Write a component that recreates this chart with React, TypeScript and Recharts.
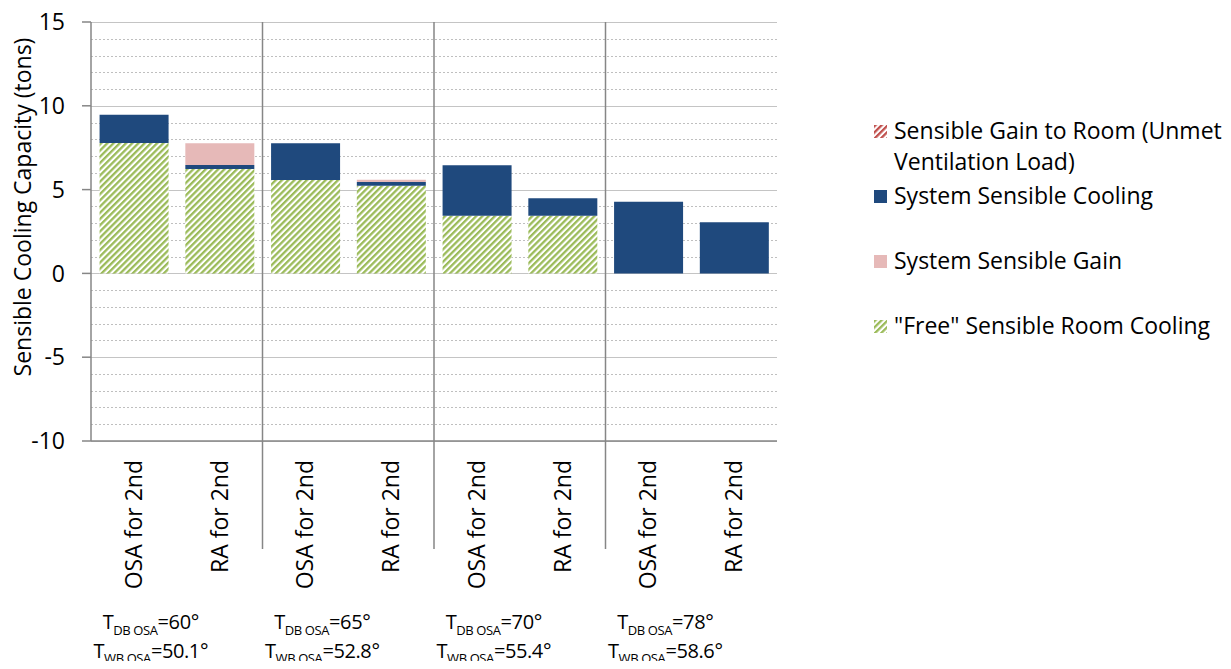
import React from 'react';
import { BarChart, Bar, XAxis, YAxis, CartesianGrid } from 'recharts';

const CATEGORIES = ['OSA for 2nd', 'RA for 2nd', 'OSA for 2nd', 'RA for 2nd', 'OSA for 2nd', 'RA for 2nd', 'OSA for 2nd', 'RA for 2nd'];
const GROUP_DB = ['60°', '65°', '70°', '78°'];
const GROUP_WB = ['50.1°', '52.8°', '55.4°', '58.6°'];

const FREE_COOLING = [7.78, 6.23, 5.57, 5.23, 3.44, 3.44, 0, 0];
const SYSTEM_COOLING = [1.69, 0.24, 2.19, 0.22, 3.01, 1.04, 4.28, 3.05];
const SYSTEM_GAIN = [0, 1.3, 0, 0.14, 0, 0, 0, 0];
const UNMET_GAIN = [0, 0, 0, 0, 0, 0, 0, 0];

const Y_DOMAIN = [-10, 15];
const MAJOR_TICKS = [-10, -5, 0, 5, 10, 15];
const MINOR_TICKS = [-9, -8, -7, -6, -4, -3, -2, -1, 1, 2, 3, 4, 6, 7, 8, 9, 11, 12, 13, 14];

const LEGEND_ITEMS = [
  { name: 'Sensible Gain to Room (Unmet Ventilation Load)', fill: 'url(#redHatch)' },
  { name: 'System Sensible Cooling', fill: '#1F497D' },
  { name: 'System Sensible Gain', fill: '#E6B9B8' },
  { name: '"Free" Sensible Room Cooling', fill: 'url(#greenHatch)' },
];

const data = CATEGORIES.map((name, i) => ({
  name,
  free: FREE_COOLING[i],
  cooling: SYSTEM_COOLING[i],
  gain: SYSTEM_GAIN[i],
  unmet: UNMET_GAIN[i],
}));

// chart is pulled back over the body margin, so coordinates below are page pixels
const FONT = '"Open Sans", sans-serif';
const FS = 23;
const W = 1231;
const H = 669;
const PLOT_LEFT = 91;
const PLOT_TOP = 22;
const PLOT_RIGHT = 777;
const PLOT_BOTTOM = 441;
const BAND = (PLOT_RIGHT - PLOT_LEFT) / CATEGORIES.length;
const AXIS_COLOR = '#868686';

// snap grid lines to the pixel grid so the 1px dotted lines stay visible
const gridAt = (values: number[]) => (props: any) => {
  const scale = props?.yAxis?.scale;
  const top = props?.offset?.top ?? PLOT_TOP;
  const height = props?.offset?.height ?? PLOT_BOTTOM - PLOT_TOP;
  const toY = (v: number) => {
    if (typeof scale === 'function') return scale(v);
    if (scale && typeof scale.map === 'function') return scale.map(v);
    return top + ((Y_DOMAIN[1] - v) / (Y_DOMAIN[1] - Y_DOMAIN[0])) * height;
  };
  return values.map((v) => Math.round(toY(v)) + 0.5);
};

const XTick = (props: any) => {
  const { x, payload } = props;
  const i = payload.index;
  const top = PLOT_BOTTOM + 19;
  const g = Math.floor(i / 2);
  const cx = x + BAND / 2 - 26;
  return (
    <g>
      <text
        x={x + 8}
        y={top}
        transform={`rotate(-90, ${x + 8}, ${top})`}
        textAnchor="end"
        fontSize={FS}
        fill="#000"
        fontFamily={FONT}
      >
        {payload.value}
      </text>
      {i % 2 === 0 && i > 0 && (
        <line x1={x - BAND / 2} x2={x - BAND / 2} y1={PLOT_TOP} y2={549} stroke={AXIS_COLOR} strokeWidth={1.5} />
      )}
      {i % 2 === 0 && (
        <g fontFamily={FONT} fill="#000" letterSpacing={-0.4}>
          <text x={cx} y={629} textAnchor="middle" fontSize={20}>
            <tspan>T</tspan>
            <tspan fontSize={13} dy={6}>DB OSA</tspan>
            <tspan dy={-6}>{'=' + GROUP_DB[g]}</tspan>
          </text>
          <text x={cx} y={658} textAnchor="middle" fontSize={20}>
            <tspan>T</tspan>
            <tspan fontSize={13} dy={5}>WB OSA</tspan>
            <tspan dy={-5}>{'=' + GROUP_WB[g]}</tspan>
          </text>
        </g>
      )}
    </g>
  );
};

const Swatch = ({ fill }: { fill: string }) => (
  <svg width={13} height={13} style={{ marginRight: 7, marginTop: 10, flexShrink: 0 }}>
    <rect width={13} height={13} fill={fill} />
  </svg>
);

const App = () => {
  return (
    <div style={{ position: 'relative', width: W, height: H, margin: -8, fontFamily: FONT }}>
      <BarChart width={W} height={H} data={data} margin={{ top: PLOT_TOP, right: W - PLOT_RIGHT, bottom: 0, left: 0 }} barCategoryGap="10%">
        <defs>
          <pattern id="greenHatch" width={4.4} height={4.4} patternUnits="userSpaceOnUse" patternTransform="rotate(45)">
            <rect width={4.4} height={4.4} fill="#FFFFFF" />
            <rect width={2.3} height={4.4} fill="#9BBB59" />
          </pattern>
          <pattern id="redHatch" width={4.4} height={4.4} patternUnits="userSpaceOnUse" patternTransform="rotate(45)">
            <rect width={4.4} height={4.4} fill="#FFFFFF" />
            <rect width={2.3} height={4.4} fill="#C0504D" />
          </pattern>
        </defs>
        <CartesianGrid
          yAxisId="left"
          horizontalCoordinatesGenerator={gridAt(MINOR_TICKS)}
          vertical={false}
          stroke="#BFBFBF"
          strokeDasharray="2 2"
        />
        <CartesianGrid yAxisId="left" horizontalCoordinatesGenerator={gridAt(MAJOR_TICKS)} vertical={false} stroke="#C4C4C4" />
        <XAxis
          dataKey="name"
          height={H - PLOT_BOTTOM}
          interval={0}
          tickLine={false}
          axisLine={{ stroke: AXIS_COLOR, strokeWidth: 1.5 }}
          tick={<XTick />}
        />
        <YAxis
          yAxisId="left"
          width={PLOT_LEFT}
          domain={Y_DOMAIN}
          ticks={MAJOR_TICKS}
          tickSize={9}
          tickMargin={17}
          axisLine={{ stroke: AXIS_COLOR, strokeWidth: 1.5 }}
          tickLine={{ stroke: AXIS_COLOR, strokeWidth: 1.5 }}
          tick={{ fontSize: FS, fill: '#000', fontFamily: FONT }}
          label={{
            content: () => (
              <text
                x={22}
                y={207}
                transform="rotate(-90, 22, 207)"
                textAnchor="middle"
                dominantBaseline="central"
                fontSize={FS}
                fill="#000"
                fontFamily={FONT}
              >
                Sensible Cooling Capacity (tons)
              </text>
            ),
          }}
        />
        <YAxis
          yAxisId="right"
          orientation="right"
          width={0}
          domain={Y_DOMAIN}
          tick={false}
          tickLine={false}
          axisLine={{ stroke: AXIS_COLOR, strokeWidth: 1.5 }}
        />
        <Bar yAxisId="left" dataKey="free" stackId="a" fill="url(#greenHatch)" isAnimationActive={false} />
        <Bar yAxisId="left" dataKey="cooling" stackId="a" fill="#1F497D" isAnimationActive={false} />
        <Bar yAxisId="left" dataKey="gain" stackId="a" fill="#E6B9B8" isAnimationActive={false} />
        <Bar yAxisId="left" dataKey="unmet" stackId="a" fill="url(#redHatch)" isAnimationActive={false} />
      </BarChart>
      <div style={{ position: 'absolute', left: 874, top: 115, width: 357, fontSize: FS, lineHeight: '31px', color: '#000' }}>
        {LEGEND_ITEMS.map((item) => (
          <div key={item.name} style={{ display: 'flex', alignItems: 'flex-start', height: 65 }}>
            <Swatch fill={item.fill} />
            <span>{item.name}</span>
          </div>
        ))}
      </div>
    </div>
  );
};

export default App;
